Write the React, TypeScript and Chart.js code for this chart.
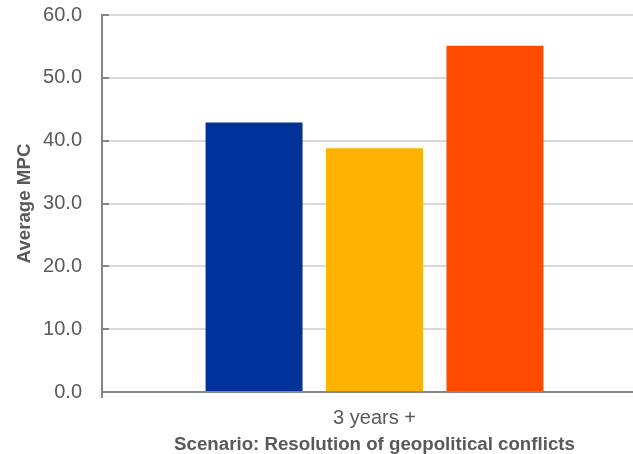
import React, { useEffect, useRef } from "react";
import { Chart, registerables } from "chart.js";

Chart.register(...registerables);

// Horizon category and average MPC per group
const categories = ["3 years +"];
const seriesNames = ["Series 1", "Series 2", "Series 3"];
const seriesValues = [[42.9], [38.8], [55.1]];
const seriesColors = ["#003399", "#FFB300", "#FF4B00"];

const yTitle = "Average MPC";
const xTitle = "Scenario: Resolution of geopolitical conflicts";
const yMin = 0;
const yMax = 60;
const yStep = 10;

const TEXT = "#595959";
const AXIS = "#868686";
const GRID = "#d9d9d9";
const FONT = '"Liberation Sans", Arial, Helvetica, sans-serif';

// Short tick marks pointing into the plot from the value axis
const innerTicks = {
  id: "innerTicks",
  afterDatasetsDraw(chart: any) {
    const { ctx, chartArea } = chart;
    const y = chart.scales.y;
    ctx.save();
    ctx.strokeStyle = AXIS;
    ctx.lineWidth = 2;
    y.ticks.forEach((_: any, i: number) => {
      const py = Math.round(y.getPixelForTick(i));
      ctx.beginPath();
      ctx.moveTo(chartArea.left, py);
      ctx.lineTo(chartArea.left + 7, py);
      ctx.stroke();
    });
    ctx.restore();
  },
};

export default function App() {
  const ref = useRef<HTMLCanvasElement | null>(null);

  useEffect(() => {
    if (!ref.current) return;
    const chart = new Chart(ref.current, {
      type: "bar",
      data: {
        labels: categories,
        datasets: seriesNames.map((name, i) => ({
          label: name,
          data: seriesValues[i],
          backgroundColor: seriesColors[i],
          borderWidth: 0,
          barPercentage: 0.805,
          categoryPercentage: 0.663,
        })),
      },
      options: {
        responsive: false,
        animation: false,
        devicePixelRatio: 1,
        layout: { padding: { top: 15, right: 13, bottom: 0, left: 0 } },
        plugins: {
          legend: { display: false },
          tooltip: { enabled: false },
        },
        scales: {
          x: {
            afterFit: (s: any) => {
              s.height = 62;
              s.paddingLeft = 0;
              s.paddingRight = 0;
            },
            border: { display: true, color: AXIS, width: 2 },
            grid: {
              display: true,
              drawOnChartArea: false,
              drawTicks: true,
              tickLength: 6,
              color: AXIS,
              lineWidth: 2,
              offset: true,
            },
            ticks: {
              color: TEXT,
              padding: 8,
              font: { family: FONT, size: 20 },
            },
            title: {
              display: true,
              text: xTitle,
              color: TEXT,
              padding: { top: 0, bottom: 0 },
              font: { family: FONT, size: 18.7, weight: "bold", lineHeight: 1 },
            },
          },
          y: {
            min: yMin,
            max: yMax,
            afterFit: (s: any) => {
              s.width = 102;
              s.paddingTop = 0;
              s.paddingBottom = 0;
            },
            border: { display: true, color: AXIS, width: 2 },
            grid: { color: GRID, lineWidth: 2, drawTicks: false },
            ticks: {
              stepSize: yStep,
              color: TEXT,
              padding: 20,
              font: { family: FONT, size: 20 },
              callback: (v: any) => Number(v).toFixed(1),
            },
            title: {
              display: true,
              text: yTitle,
              color: TEXT,
              padding: { top: 14, bottom: 0 },
              font: { family: FONT, size: 18.7, weight: "bold", lineHeight: 1.2 },
            },
          },
        },
      },
      plugins: [innerTicks],
    });
    return () => chart.destroy();
  }, []);

  return (
    <div
      style={{
        position: "fixed",
        left: 0,
        top: 0,
        width: 633,
        height: 454,
        overflow: "hidden",
        background: "#fff",
      }}
    >
      <canvas ref={ref} width={660} height={454} style={{ display: "block" }} />
    </div>
  );
}
